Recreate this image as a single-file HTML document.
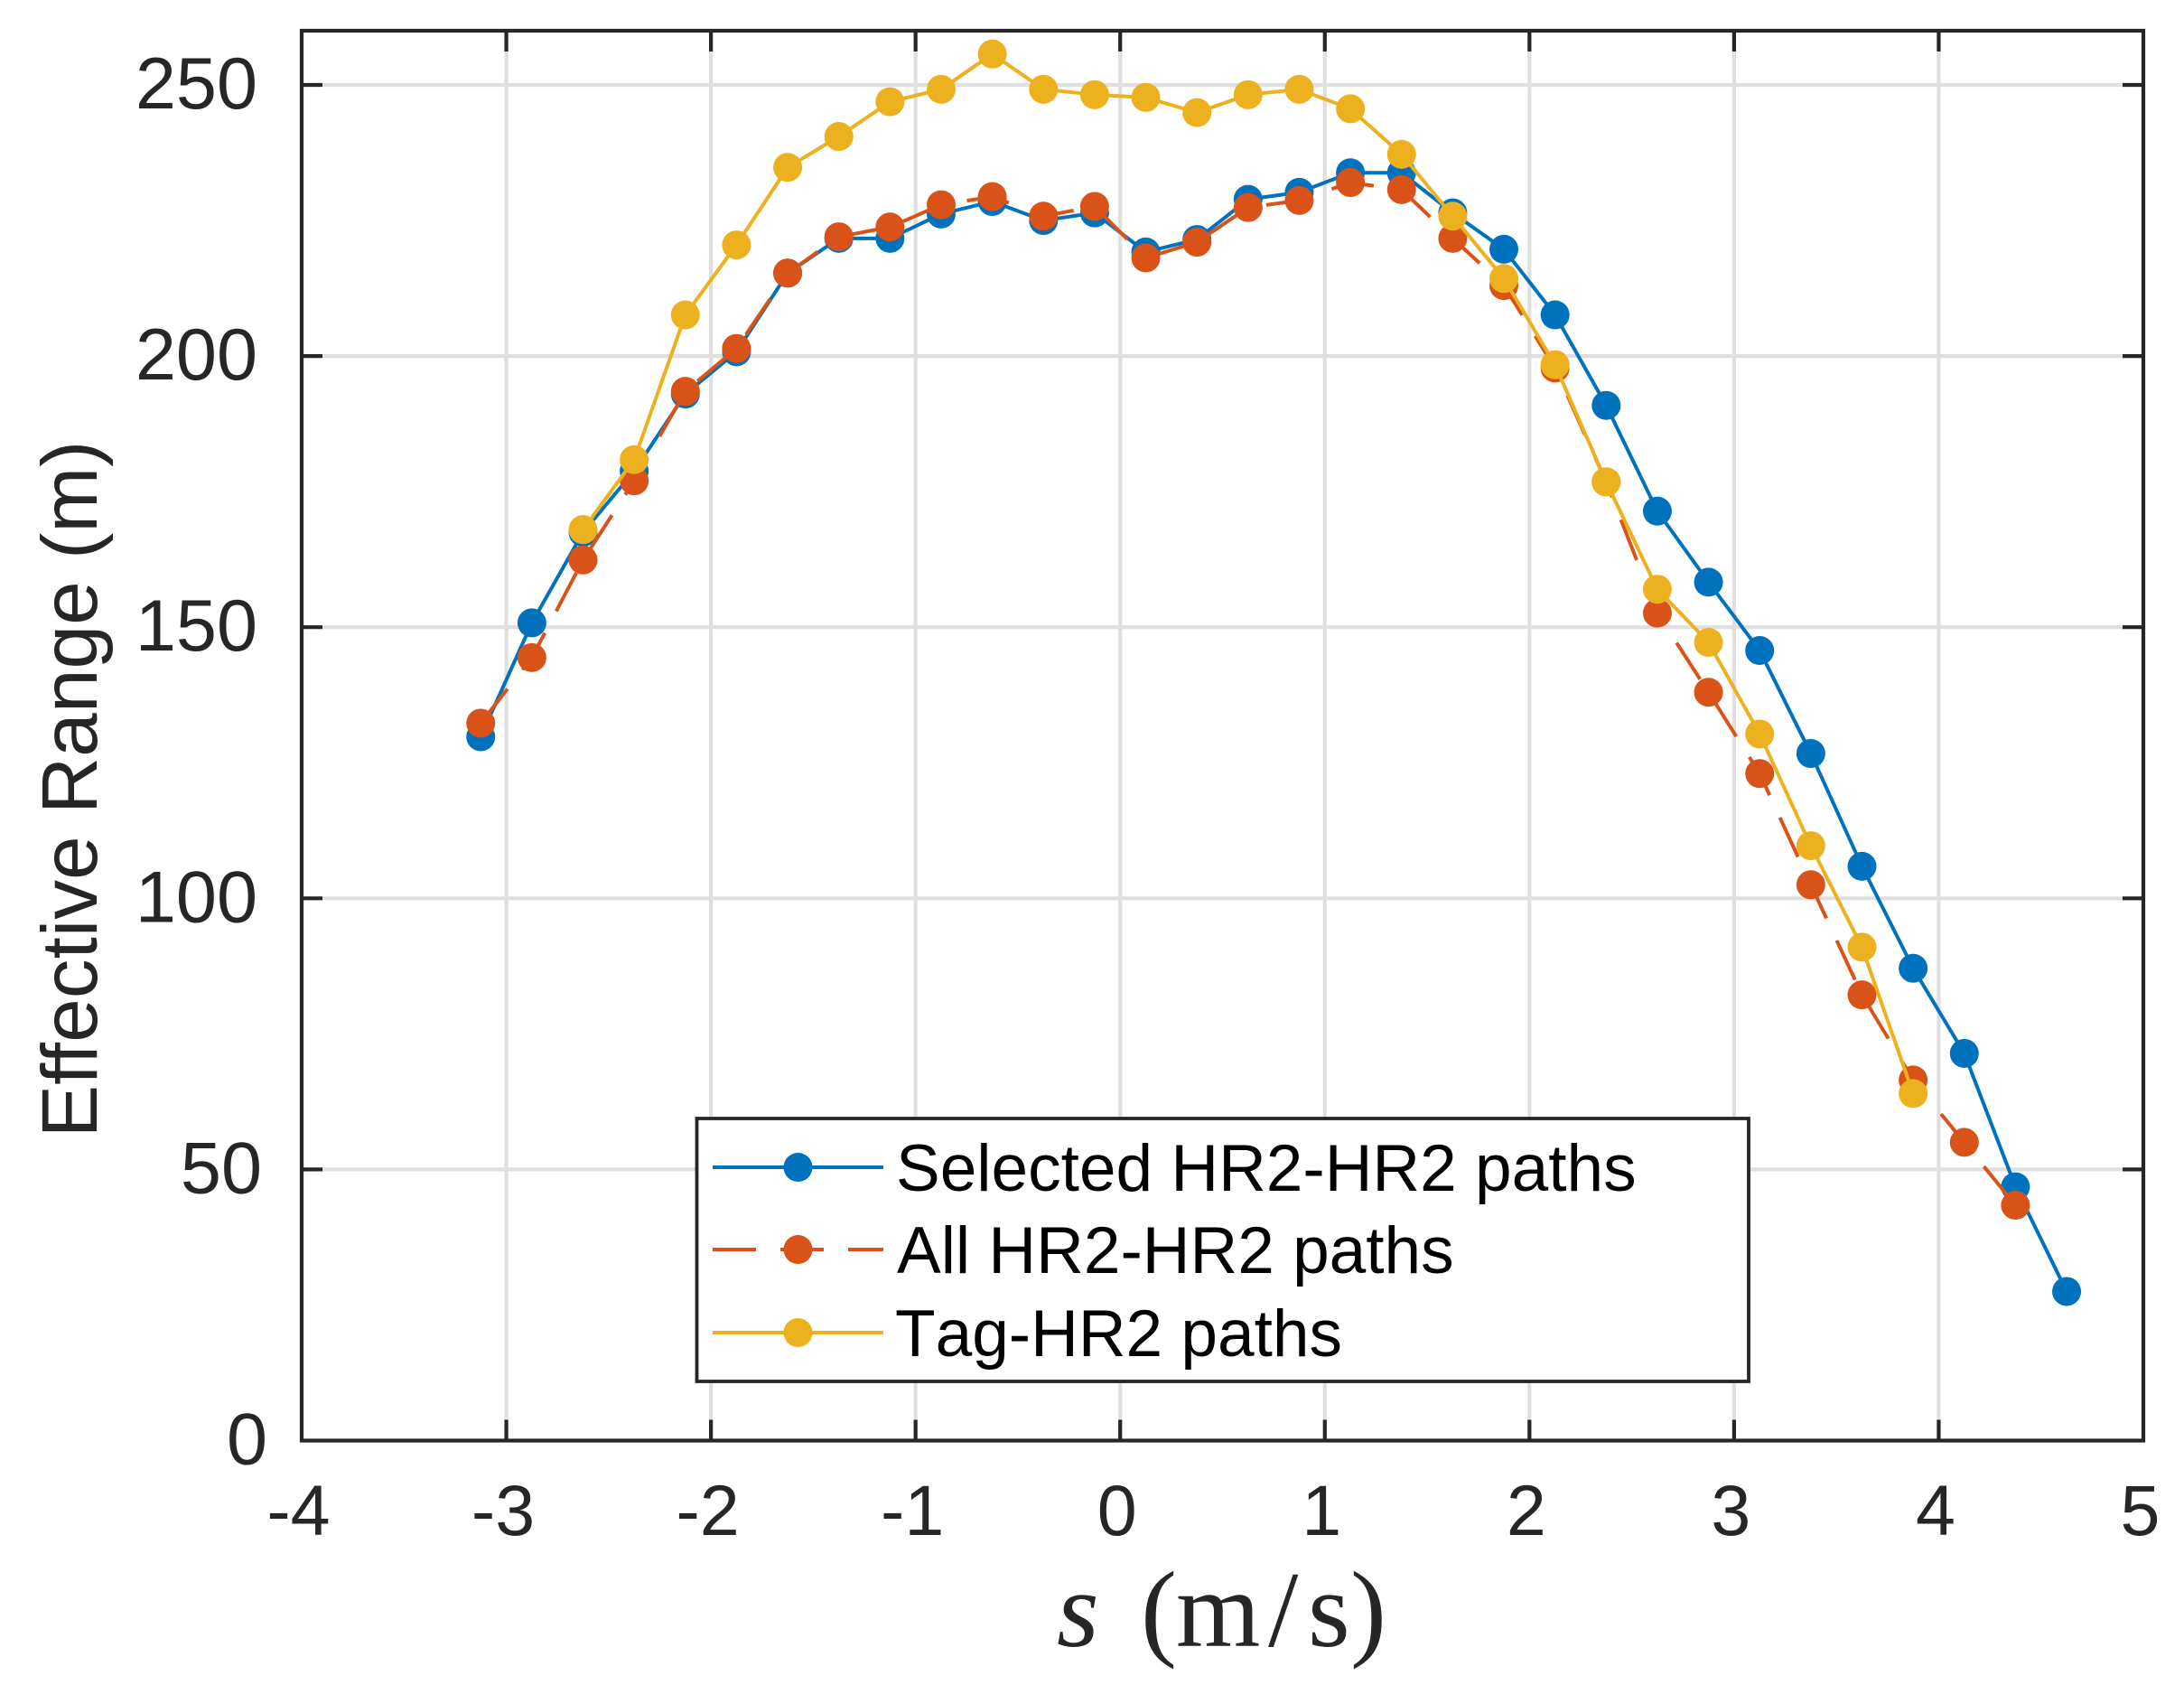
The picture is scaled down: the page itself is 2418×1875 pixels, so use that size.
<!DOCTYPE html>
<html>
<head>
<meta charset="utf-8">
<title>Effective Range chart</title>
<style>
html,body{margin:0;padding:0;background:#fff;}
svg{display:block;}
text{font-family:"Liberation Sans",Arial,sans-serif;fill:#262626;}
</style>
</head>
<body>
<svg id="chart" xmlns="http://www.w3.org/2000/svg" width="2418" height="1875" viewBox="0 0 2418 1875">
  <rect x="0" y="0" width="2418" height="1875" fill="#fff"/>
  <g id="grid"></g>
  <g id="series"></g>
  <g id="axes"></g>
  <text transform="translate(107,873.5) rotate(-90)" text-anchor="middle" font-size="87.5">Effective Range (m)</text>
  <text y="1822" style="font-family:'Liberation Serif',serif" font-size="120"><tspan x="1170" font-style="italic">s</tspan><tspan x="1263 1302 1404 1448 1495">(m/s)</tspan></text>
  <g id="legend">
    <rect x="771.5" y="1238" width="1164.5" height="291" fill="#fff" stroke="#262626" stroke-width="3.8"/>
    <g>
      <line x1="789" x2="978" y1="1292" y2="1292" stroke="#0072BD" stroke-width="4"/>
      <circle cx="883.5" cy="1292" r="16" fill="#0072BD"/>
      <text x="992" y="1318" font-size="73" style="fill:#000">Selected HR2-HR2 paths</text>
    </g>
    <g>
      <line x1="789" x2="978" y1="1383" y2="1383" stroke="#D95319" stroke-width="4" stroke-dasharray="48 27"/>
      <circle cx="883.5" cy="1383" r="16" fill="#D95319"/>
      <text x="993" y="1409" font-size="73" style="fill:#000">All HR2-HR2 paths</text>
    </g>
    <g>
      <line x1="789" x2="978" y1="1475" y2="1475" stroke="#EDB120" stroke-width="4"/>
      <circle cx="883.5" cy="1475" r="16" fill="#EDB120"/>
      <text x="991" y="1501" font-size="73" style="fill:#000;font-kerning:none">Tag-HR2 paths</text>
    </g>
  </g>
</svg>
<script>
var xTicks = [-4, -3, -2, -1, 0, 1, 2, 3, 4, 5];
var yTicks = [0, 50, 100, 150, 200, 250];
var speedsSelected = [-3.125, -2.875, -2.625, -2.375, -2.125, -1.875, -1.625, -1.375, -1.125, -0.875, -0.625, -0.375, -0.125, 0.125, 0.375, 0.625, 0.875, 1.125, 1.375, 1.625, 1.875, 2.125, 2.375, 2.625, 2.875, 3.125, 3.375, 3.625, 3.875, 4.125, 4.375, 4.625];
var rangeSelected = [129.8, 150.8, 167.5, 178.8, 193, 200.8, 215.3, 221.7, 221.7, 226.2, 228.5, 225, 226.4, 219.2, 221.5, 228.9, 230.2, 233.8, 233.8, 226.4, 219.7, 207.6, 190.9, 171.4, 158.3, 145.7, 126.7, 105.9, 87.1, 71.4, 46.8, 27.5];
var speedsAll = [-3.125, -2.875, -2.625, -2.375, -2.125, -1.875, -1.625, -1.375, -1.125, -0.875, -0.625, -0.375, -0.125, 0.125, 0.375, 0.625, 0.875, 1.125, 1.375, 1.625, 1.875, 2.125, 2.375, 2.625, 2.875, 3.125, 3.375, 3.625, 3.875, 4.125, 4.375];
var rangeAll = [132.3, 144.4, 162.4, 177, 193.5, 201.4, 215.3, 222, 223.8, 227.9, 229.4, 225.8, 227.6, 218.1, 221, 227.4, 228.7, 232, 230.7, 221.7, 213, 197.8, 176.8, 152.6, 138, 123, 102.5, 82.2, 66.5, 55, 43.4];
var speedsTag = [-2.625, -2.375, -2.125, -1.875, -1.625, -1.375, -1.125, -0.875, -0.625, -0.375, -0.125, 0.125, 0.375, 0.625, 0.875, 1.125, 1.375, 1.625, 1.875, 2.125, 2.375, 2.625, 2.875, 3.125, 3.375, 3.625, 3.875];
var rangeTag = [168, 180.9, 207.6, 220.5, 234.8, 240.5, 246.9, 249.2, 255.7, 249.2, 248.2, 247.7, 244.9, 248.2, 249.2, 245.6, 237.2, 225.8, 214.3, 198.4, 176.8, 157, 147.2, 130.3, 109.7, 91, 64];

var NS = 'http://www.w3.org/2000/svg';
var plotLeft = 334, plotRight = 2373, plotTop = 34, plotBottom = 1594.5;
var xMin = -4, xMax = 5, yMin = 0, yMax = 260;

function xScale(v) { return plotLeft + (v - xMin) / (xMax - xMin) * (plotRight - plotLeft); }
function yScale(v) { return plotBottom - (v - yMin) / (yMax - yMin) * (plotBottom - plotTop); }
function make(tag, attrs, parent) {
  var el = document.createElementNS(NS, tag);
  for (var k in attrs) { el.setAttribute(k, attrs[k]); }
  parent.appendChild(el);
  return el;
}

var gridGroup = document.getElementById('grid');
var axesGroup = document.getElementById('axes');
var seriesGroup = document.getElementById('series');

xTicks.forEach(function (t) {
  if (t === xMin || t === xMax) { return; }
  var gl = make('line', {x1: xScale(t), x2: xScale(t), y1: plotTop, y2: plotBottom, stroke: '#dfdfdf', 'stroke-width': 4.2}, gridGroup);
  
  
});
yTicks.forEach(function (t) {
  if (t === yMin) { return; }
  var gl = make('line', {x1: plotLeft, x2: plotRight, y1: yScale(t), y2: yScale(t), stroke: '#dfdfdf', 'stroke-width': 4.2}, gridGroup);
  
  
});

function drawSeries(name, xs, ys, color, dash) {
  var g = make('g', {}, seriesGroup);
  
  
  var pts = xs.map(function (x, i) { return xScale(x) + ',' + yScale(ys[i]); }).join(' ');
  var attrs = {points: pts, fill: 'none', stroke: color, 'stroke-width': 4, 'stroke-linejoin': 'round'};
  if (dash) { attrs['stroke-dasharray'] = dash; }
  var line = make('polyline', attrs, g);
  
  
  xs.forEach(function (x, i) {
    var c = make('circle', {cx: xScale(x), cy: yScale(ys[i]), r: 16, fill: color}, g);
    
    
  });
}
drawSeries('selected', speedsSelected, rangeSelected, '#0072BD', null);
drawSeries('all', speedsAll, rangeAll, '#D95319', '48 27');
drawSeries('tag', speedsTag, rangeTag, '#EDB120', null);

var tickLen = 23;
xTicks.forEach(function (t) {
  if (t !== xMin && t !== xMax) {
    var a = make('line', {x1: xScale(t), x2: xScale(t), y1: plotBottom, y2: plotBottom - tickLen, stroke: '#262626', 'stroke-width': 4.2}, axesGroup);
    
    
    var b = make('line', {x1: xScale(t), x2: xScale(t), y1: plotTop, y2: plotTop + tickLen, stroke: '#262626', 'stroke-width': 4.2}, axesGroup);
    
    
  }
  var lab = make('text', {x: xScale(t) - 3.5, y: 1699, 'text-anchor': 'middle', 'font-size': 79}, axesGroup);
  lab.textContent = String(t);
  
  
});
yTicks.forEach(function (t) {
  if (t !== yMin) {
    var a = make('line', {x1: plotLeft, x2: plotLeft + tickLen, y1: yScale(t), y2: yScale(t), stroke: '#262626', 'stroke-width': 4.2}, axesGroup);
    
    
    var b = make('line', {x1: plotRight, x2: plotRight - tickLen, y1: yScale(t), y2: yScale(t), stroke: '#262626', 'stroke-width': 4.2}, axesGroup);
    
    
  }
  var digits = String(t).length;
  var endX = digits === 3 ? 285 : (digits === 2 ? 290 : 296);
  var lab = make('text', {x: endX, y: yScale(t) + 26, 'text-anchor': 'end', 'font-size': 81}, axesGroup);
  lab.textContent = String(t);
  
  
});

var frame = make('rect', {x: plotLeft, y: plotTop, width: plotRight - plotLeft, height: plotBottom - plotTop, fill: 'none', stroke: '#262626', 'stroke-width': 4.2}, axesGroup);


</script>
</body>
</html>
